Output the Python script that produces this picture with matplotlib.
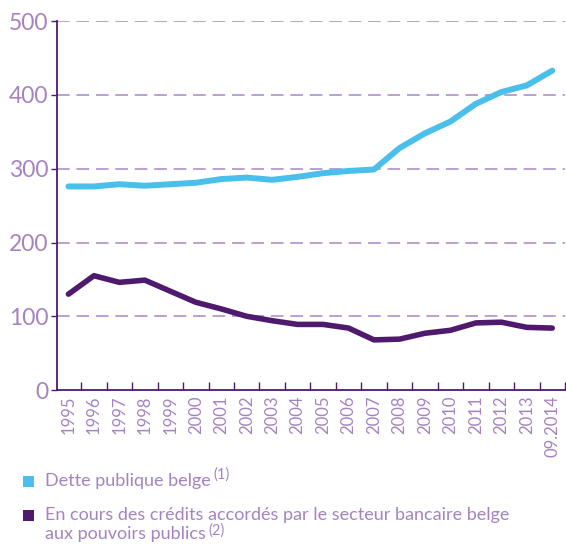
import numpy as np
import matplotlib
matplotlib.use("Agg")
import matplotlib.pyplot as plt
from matplotlib.patches import Rectangle

# data (milliards EUR)
years = ['1995', '1996', '1997', '1998', '1999', '2000', '2001', '2002', '2003', '2004',
         '2005', '2006', '2007', '2008', '2009', '2010', '2011', '2012', '2013', '09.2014']
dette_publique = [276, 276, 279, 277, 279, 281, 286, 288, 285, 289,
                  294, 297, 299, 328, 348, 364, 388, 404, 413, 433]
credits_banques = [130, 155, 146, 149, 134, 119, 110, 100, 94, 89,
                   89, 84, 68, 69, 77, 81, 91, 92, 85, 84]
legend_labels = [['Dette publique belge'],
                 ['En cours des crédits accordés par le secteur bancaire belge',
                  'aux pouvoirs publics']]
legend_notes = ['(1)', '(2)']

BLUE = '#4bbfeb'
PURPLE = '#4f1a6e'
TEXT = '#a583c0'
GRID = '#b9a0d2'

plt.rcParams['font.family'] = ['Lato', 'DejaVu Sans']

fig = plt.figure(figsize=(5.66, 5.44), dpi=100)
ax = fig.add_axes([0.1007, 0.283, 0.8975, 0.678])

x = np.arange(len(years))
ax.plot(x, dette_publique, color=BLUE, lw=4.3, solid_capstyle='round', solid_joinstyle='round', zorder=3)
ax.plot(x, credits_banques, color=PURPLE, lw=4.0, solid_capstyle='round', solid_joinstyle='round', zorder=3)

ax.set_xlim(-0.45, len(years) - 0.5)
ax.set_ylim(0, 500)

# y axis
ax.set_yticks([0, 100, 200, 300, 400, 500])
ax.tick_params(axis='y', direction='out', length=4, width=1, color=PURPLE,
               labelsize=16.5, labelcolor=TEXT, pad=2)
for yv in [100, 200, 300, 400, 500]:
    ax.axhline(yv, color=GRID, lw=1.4, linestyle=(0, (6.5, 3.5)), zorder=1)

# x axis: labels centred, ticks on category boundaries
ax.set_xticks(x)
ax.set_xticklabels(years, rotation=90)
ax.tick_params(axis='x', which='major', length=0, labelsize=12, labelcolor=TEXT, pad=4)
ax.set_xticks(np.arange(len(years)) + 0.5, minor=True)
ax.tick_params(axis='x', which='minor', direction='in', length=6, width=1, color=PURPLE)

for side in ['top', 'right']:
    ax.spines[side].set_visible(False)
for side in ['left', 'bottom']:
    ax.spines[side].set_color(PURPLE)
    ax.spines[side].set_linewidth(1.3)

# legend drawn by hand under the chart
W, H = 566, 544
items = [(BLUE, 481), (PURPLE, 515)]
note_raise = [4, 1.5]
for (col, ypix), lines, note, up in zip(items, legend_labels, legend_notes, note_raise):
    fig.add_artist(Rectangle((23 / W, 1 - (ypix + 5.5) / H), 11 / W, 11 / H,
                             transform=fig.transFigure, color=col, lw=0))
    t = None
    for k, line in enumerate(lines):
        t = fig.text(45 / W, 1 - (ypix + k * 18.5) / H, line, color=TEXT, fontsize=13,
                     va='center', ha='left')
    # footnote mark after the last line
    ax.annotate(note, xy=(1, 1), xycoords=t, xytext=(2, up), textcoords='offset points',
                color=TEXT, fontsize=10.5, ha='left', va='top', annotation_clip=False)

fig.savefig('out.png', dpi=100)
